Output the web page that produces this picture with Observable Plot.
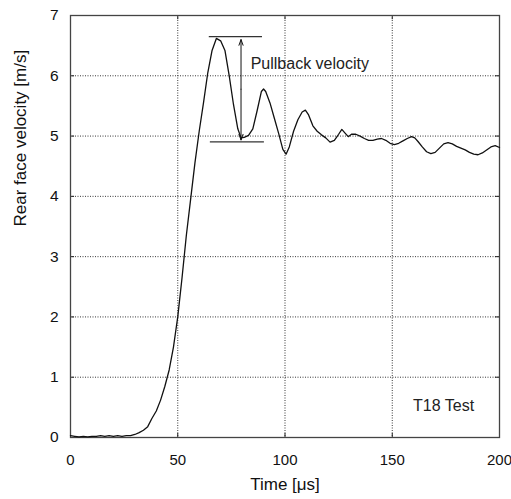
<!DOCTYPE html>
<html>
<head>
<meta charset="utf-8">
<script src="https://cdn.jsdelivr.net/npm/d3@7"></script>
<script src="https://cdn.jsdelivr.net/npm/@observablehq/plot@0.6"></script>
<style>
  html, body { margin: 0; padding: 0; background: #fff; }
  svg { display: block; }
</style>
</head>
<body>
<div id="chart"></div>
<script>
// Time [μs]
const time = [0,2,4,6,8,10,12,14,16,18,20,22,24,26,28,30,32,34,36,38,40,42,44,46,48,50,52,54,56,58,60,62,64,66,68,70,72,74,76,78,79.5,81,83,85,87,89,90,91,93,95,97,99,100.5,102,104,106,108,109.5,111,113,115,117,119,121,123,125,126.5,128,129.5,131,133,135,137,139,141,143,145,147,149,151,153,155,157,159,160.5,162,164,166,168,170,172,174,176,178,180,182,184,186,188,190,192,194,196,198,200];
// Rear face velocity [m/s]
const velocity = [0.03,0.02,0.01,0.02,0.01,0.02,0.02,0.03,0.02,0.03,0.02,0.03,0.02,0.03,0.03,0.05,0.08,0.12,0.18,0.32,0.44,0.62,0.85,1.12,1.5,2.0,2.65,3.35,3.95,4.55,5.08,5.55,6.05,6.42,6.62,6.58,6.42,6.0,5.52,5.12,4.97,4.98,5.01,5.12,5.42,5.74,5.78,5.74,5.55,5.3,5.05,4.78,4.70,4.82,5.08,5.27,5.40,5.43,5.35,5.17,5.08,5.02,4.97,4.90,4.93,5.03,5.11,5.05,4.99,5.03,5.03,5.0,4.96,4.93,4.93,4.95,4.96,4.93,4.88,4.86,4.88,4.92,4.96,4.99,4.97,4.91,4.82,4.74,4.71,4.73,4.8,4.87,4.89,4.87,4.83,4.80,4.77,4.73,4.70,4.69,4.72,4.77,4.82,4.84,4.81];

const xTicks = [0, 50, 100, 150, 200];
const yTicks = [0, 1, 2, 3, 4, 5, 6, 7];

// Pullback annotation
const pullbackPeak = 6.65;      // peak velocity level
const pullbackMin = 4.905;      // first minimum level
const peakLineT = [64.7, 89.5];
const minLineT = [65.2, 90.4];
const arrowT = 79.5;
const pullbackLabel = "Pullback velocity";
const pullbackLabelPos = {t: 84, v: 6.2};
const testLabel = "T18 Test";
const testLabelPos = {t: 159.7, v: 0.52};

const data = time.map((t, i) => ({t, v: velocity[i]}));
const mid = (pullbackPeak + pullbackMin) / 2;
const fmt = d3.format("d");

const chart = Plot.plot({
  width: 511,
  height: 499,
  marginLeft: 70,
  marginRight: 12,
  marginTop: 15,
  marginBottom: 62,
  style: {fontFamily: "'Liberation Sans', Arial, sans-serif", fontSize: "15px", color: "#111", background: "#fff"},
  x: {domain: [0, 200], ticks: xTicks, tickFormat: fmt, tickSize: 0, tickPadding: 17, label: null},
  y: {domain: [0, 7], ticks: yTicks, tickFormat: fmt, tickSize: 0, tickPadding: 12, label: null},
  marks: [
    Plot.gridX(xTicks, {stroke: "#222", strokeOpacity: 0.9, strokeDasharray: "1,1.5"}),
    Plot.gridY(yTicks, {stroke: "#222", strokeOpacity: 0.9, strokeDasharray: "1,1.5"}),
    // inward tick marks
    Plot.ruleX(xTicks, {x: d => d, y1: 0, y2: 0.07, stroke: "#222"}),
    Plot.ruleX(xTicks, {x: d => d, y1: 6.93, y2: 7, stroke: "#222"}),
    Plot.ruleY(yTicks, {y: d => d, x1: 0, x2: 1.9, stroke: "#222"}),
    Plot.ruleY(yTicks, {y: d => d, x1: 198.1, x2: 200, stroke: "#222"}),
    Plot.frame({stroke: "#444", strokeWidth: 1.3}),
    Plot.axisX(xTicks, {tickSize: 0, tickPadding: 17, tickFormat: fmt, fontSize: 15, label: null}),
    Plot.axisY(yTicks, {tickSize: 0, tickPadding: 12, tickFormat: fmt, fontSize: 15.5, label: null}),
    Plot.line(data, {x: "t", y: "v", stroke: "#111", strokeWidth: 1.3}),
    // pullback level lines
    Plot.ruleY([pullbackPeak], {x1: peakLineT[0], x2: peakLineT[1], stroke: "#333", strokeWidth: 1.2}),
    Plot.ruleY([pullbackMin], {x1: minLineT[0], x2: minLineT[1], stroke: "#333", strokeWidth: 1.2}),
    Plot.arrow([{v1: mid, v2: pullbackPeak - 0.05}, {v1: mid, v2: pullbackMin + 0.03}], {
      x1: () => arrowT, x2: () => arrowT, y1: "v1", y2: "v2",
      stroke: "#111", strokeWidth: 1, headLength: 9, headAngle: 40
    }),
    Plot.text([pullbackLabel], {x: pullbackLabelPos.t, y: pullbackLabelPos.v, text: d => d, textAnchor: "start", fontSize: 16, fill: "#222"}),
    Plot.text([testLabel], {x: testLabelPos.t, y: testLabelPos.v, text: d => d, textAnchor: "start", fontSize: 16, fill: "#222"}),
    // axis titles
    Plot.text(["Time [μs]"], {frameAnchor: "bottom", dy: 52, text: d => d, fontSize: 17, fill: "#111"}),
    Plot.text(["Rear face velocity [m/s]"], {frameAnchor: "left", dx: -50, rotate: -90, text: d => d, fontSize: 17, fill: "#111"})
  ]
});
document.getElementById("chart").appendChild(chart);
</script>
</body>
</html>
